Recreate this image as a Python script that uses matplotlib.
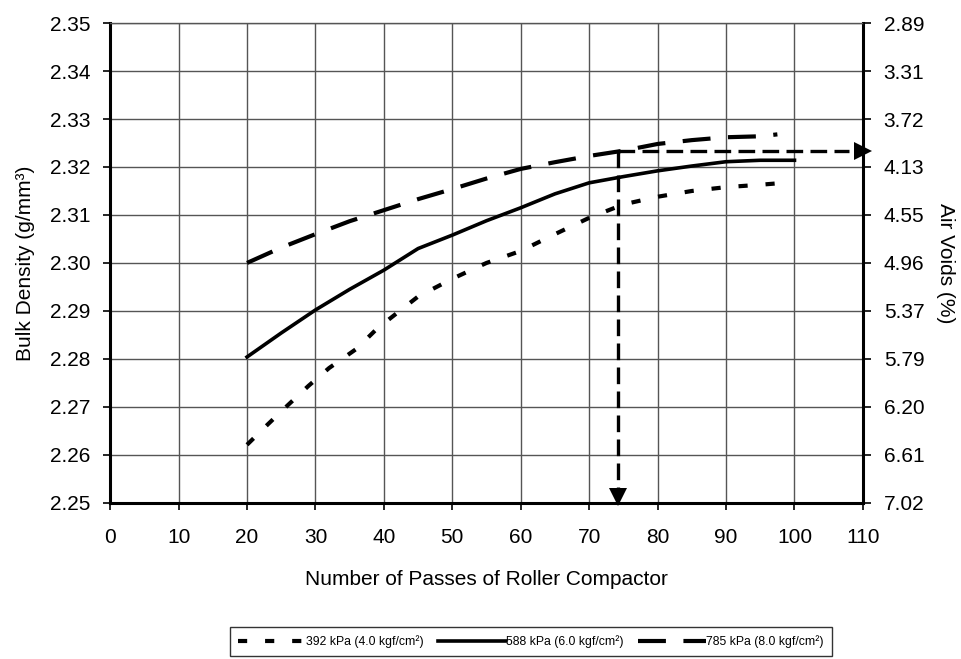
import matplotlib
matplotlib.use("Agg")
import matplotlib.pyplot as plt

plt.rcParams['font.family'] = ['Liberation Sans', 'DejaVu Sans']

# passes of the roller compactor
passes_392 = [20, 23, 26, 29, 32, 36, 39, 45, 50, 55, 60, 65, 70, 75, 80, 85, 90, 95, 98.5]
dens_392 = [2.2621, 2.2663, 2.2704, 2.2744, 2.2781, 2.2821, 2.2863, 2.2930, 2.2967, 2.3000,
            2.3025, 2.3060, 2.3094, 2.3122, 2.3138, 2.3150, 2.3158, 2.3163, 2.3167]

passes_588 = [20, 25, 30, 35, 40, 45, 50, 55, 60, 65, 70, 75, 80, 85, 90, 95, 100]
dens_588 = [2.2804, 2.2854, 2.2902, 2.2945, 2.2985, 2.3030, 2.3058, 2.3088, 2.3115, 2.3144,
            2.3167, 2.3180, 2.3192, 2.3202, 2.3211, 2.3214, 2.3214]

passes_785 = [20, 25, 30, 35, 40, 45, 50, 55, 60, 65, 70, 75, 80, 85, 90, 95, 97.5]
dens_785 = [2.3000, 2.3032, 2.3060, 2.3087, 2.3110, 2.3133, 2.3154, 2.3176, 2.3196, 2.3210,
            2.3223, 2.3234, 2.3248, 2.3256, 2.3262, 2.3264, 2.3268]

labels = ['392 kPa (4.0 kgf/cm²)', '588 kPa (6.0 kgf/cm²)', '785 kPa (8.0 kgf/cm²)']

x_ticks = list(range(0, 111, 10))
y_ticks = [2.25, 2.26, 2.27, 2.28, 2.29, 2.30, 2.31, 2.32, 2.33, 2.34, 2.35]
void_labels = ['7.02', '6.61', '6.20', '5.79', '5.37', '4.96', '4.55', '4.13', '3.72', '3.31', '2.89']

# reading at the optimum number of passes
opt_pass = 74.2
opt_dens = 2.3234

fig = plt.figure(figsize=(9.62, 6.59), dpi=100)
ax = fig.add_axes([0.1145, 0.237, 0.7825, 0.728])

l1, = ax.plot(passes_392, dens_392, color='black', lw=3, dashes=(2.2, 4.3), dash_capstyle='butt')
l2, = ax.plot(passes_588, dens_588, color='black', lw=2.6)
l3, = ax.plot(passes_785, dens_785, color='black', lw=3, dashes=(6.7, 4.2), dash_capstyle='butt')

# arrows
ax.plot([opt_pass, 108], [opt_dens, opt_dens], color='black', lw=2.4, dashes=(5, 2.2))
ax.plot([110], [opt_dens], marker='>', ms=13, color='black', clip_on=False,
        markeredgewidth=0)
ax.plot([opt_pass, opt_pass], [opt_dens, 2.2515], color='black', lw=2.4, dashes=(5, 2.2))
ax.plot([opt_pass], [2.2512], marker='v', ms=13, color='black', clip_on=False,
        markeredgewidth=0)

ax.set_xlim(0, 110)
ax.set_ylim(2.25, 2.35)
ax.set_xticks(x_ticks)
ax.set_yticks(y_ticks)
ax.set_yticklabels(['%.2f' % v for v in y_ticks])
ax.grid(True, color='#555555', lw=1)
ax.set_axisbelow(True)
ax.tick_params(axis='x', labelsize=15, direction='out', length=5, width=1.2, pad=13)
ax.tick_params(axis='y', labelsize=15, direction='out', length=5, width=1.2, pad=9)
for s in ['left', 'bottom', 'right']:
    ax.spines[s].set_linewidth(2.2)
ax.spines['top'].set_linewidth(1)
ax.spines['top'].set_color('#555555')

ax.set_xlabel('Number of Passes of Roller Compactor', fontsize=15, labelpad=17)
ax.set_ylabel('Bulk Density (g/mm³)', fontsize=15, labelpad=11)

ax2 = ax.twinx()
ax2.set_ylim(2.25, 2.35)
ax2.set_yticks(y_ticks)
ax2.set_yticklabels(void_labels)
ax2.tick_params(labelsize=15, direction='out', length=6, width=1.2, pad=9)
for s in ax2.spines.values():
    s.set_visible(False)
ax2.set_ylabel('Air Voids (%)', fontsize=15, rotation=-90, labelpad=22)

leg = fig.legend([l1, l2, l3], labels, loc='center', bbox_to_anchor=(0.552, 0.0265),
                 ncol=3, fontsize=8.8, frameon=True, fancybox=False, handlelength=5.5,
                 handletextpad=0.05, columnspacing=1.2, borderpad=0.65)
leg.get_frame().set_edgecolor('black')
leg.get_frame().set_linewidth(1)

fig.savefig('out.png', dpi=100)
